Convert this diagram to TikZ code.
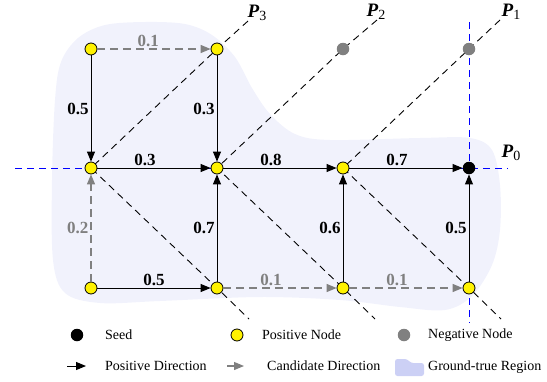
\documentclass[tikz,border=0pt]{standalone}
\usepackage{fontspec}
\setmainfont{Liberation Serif}
\usetikzlibrary{arrows.meta,backgrounds}
\definecolor{negGray}{RGB}{128,128,128}
\definecolor{regionBlue}{RGB}{204,208,245}

\begin{document}
\begin{tikzpicture}[
			x=1pt, y=-1pt,
			posnode/.style={circle, draw, fill=yellow, line width=0.8pt, minimum size=12pt, inner sep=0pt},
			negnode/.style={circle, fill=negGray, minimum size=12.5pt, inner sep=0pt},
			seednode/.style={circle, fill=black, minimum size=12.5pt, inner sep=0pt},
			posdir/.style={-{Triangle[length=10pt, width=8pt]}, line width=1pt},
			canddir/.style={-{Triangle[length=10pt, width=8pt]}, line width=1.2pt, draw=negGray, dash pattern=on 8pt off 5pt},
			pline/.style={dash pattern=on 7pt off 5pt, line width=0.9pt},
			weight/.style={font=\fontsize{17}{17}\selectfont\bfseries, inner sep=2pt},
			legtext/.style={anchor=west, inner sep=0pt, font=\fontsize{14}{14}\selectfont}
			]
			\useasboundingbox (0,0) rectangle (547,381);
			
			% grid of nodes
			\node[posnode] (a1) at (91,49) {};
			\node[posnode] (a2) at (217,49) {};
			\node[negnode] (a3) at (343,49) {};
			\node[negnode] (a4) at (469,49) {};
			\node[posnode] (b1) at (91,168) {};
			\node[posnode] (b2) at (217,168) {};
			\node[posnode] (b3) at (343,168) {};
			\node[seednode] (b4) at (469,168) {};
			\node[posnode] (c1) at (91,288) {};
			\node[posnode] (c2) at (217,288) {};
			\node[posnode] (c3) at (343,288) {};
			\node[posnode] (c4) at (469,288) {};
			
			% ends of the paths
			\coordinate (t3) at (248,21);
			\coordinate (t2) at (377,20);
			\coordinate (t1) at (500,20);
			\coordinate (e3) at (249,319);
			\coordinate (e2) at (375,319);
			\coordinate (e1) at (501,319);
			\coordinate (h0) at (15,168);
			\coordinate (h1) at (508,168);
			\coordinate (v0) at (469,22);
			\coordinate (v1) at (469,323);
			
			\begin{scope}[on background layer]
				\fill[fill=regionBlue!28] plot[smooth cycle, tension=0.55] coordinates {
					(52,180) (55,100) (61,62) (78,38) (105,25) (145,22) (185,24) (212,35)
					(235,57) (252,88) (270,114) (295,134) (330,140) (420,138) (470,138)
					(492,150) (500,185) (500,230) (492,265) (472,296) (445,310) (400,307)
					(340,300) (260,297) (160,301) (100,303) (65,293) (53,260)};
				\draw[pline, color=blue] (h0) -- (h1);
				\draw[pline, color=blue] (v0) -- (v1);
				\draw[pline] (t3) -- (a2.center) -- (b1.center) -- (c2.center) -- (e3);
				\draw[pline] (t2) -- (a3.center) -- (b2.center) -- (c3.center) -- (e2);
				\draw[pline] (t1) -- (a4.center) -- (b3.center) -- (c4.center) -- (e1);
			\end{scope}
			
			% directions
			\draw[canddir] (a1) -- node[weight, above, text=negGray, pos=0.45] {0.1} (a2);
			\draw[posdir] (a1) -- node[weight, left] {0.5} (b1);
			\draw[posdir] (a2) -- node[weight, left] {0.3} (b2);
			\draw[posdir] (b1) -- node[weight, above, pos=0.42] {0.3} (b2);
			\draw[posdir] (b2) -- node[weight, above, pos=0.42] {0.8} (b3);
			\draw[posdir] (b3) -- node[weight, above, pos=0.42] {0.7} (b4);
			\draw[canddir] (c1) -- node[weight, left, text=negGray] {0.2} (b1);
			\draw[posdir] (c1) -- node[weight, above] {0.5} (c2);
			\draw[posdir] (c2) -- node[weight, left] {0.7} (b2);
			\draw[canddir] (c2) -- node[weight, above, text=negGray, pos=0.42] {0.1} (c3);
			\draw[posdir] (c3) -- node[weight, left] {0.6} (b3);
			\draw[canddir] (c3) -- node[weight, above, text=negGray, pos=0.42] {0.1} (c4);
			\draw[posdir] (c4) -- node[weight, left] {0.5} (b4);
			
			% path labels
			\node (lp3) at (257,13) {\fontsize{19}{19}\selectfont\textbf{\textit{P}}\raisebox{-3pt}{\fontsize{14}{14}\selectfont 3}};
			\node (lp2) at (376,12) {\fontsize{19}{19}\selectfont\textbf{\textit{P}}\raisebox{-3pt}{\fontsize{14}{14}\selectfont 2}};
			\node (lp1) at (511,12) {\fontsize{19}{19}\selectfont\textbf{\textit{P}}\raisebox{-3pt}{\fontsize{14}{14}\selectfont 1}};
			\node (lp0) at (511,153) {\fontsize{19}{19}\selectfont\textbf{\textit{P}}\raisebox{-3pt}{\fontsize{14}{14}\selectfont 0}};
			
			% legend
			\node[seednode] (kseed) at (77,335) {};
			\node[legtext] (tseed) at (105,335) {Seed};
			\node[posnode] (kpos) at (237,335) {};
			\node[legtext] (tpos) at (262,335) {Positive Node};
			\node[negnode] (kneg) at (404,335) {};
			\node[legtext] (tneg) at (428,335) {Negative Node};
			\coordinate (kd0) at (67,366);
			\coordinate (kd1) at (86,366);
			\draw[posdir] (kd0) -- (kd1);
			\node[legtext] (tdir) at (105,366) {Positive Direction};
			\coordinate (kc0) at (227,366);
			\coordinate (kc1) at (244,366);
			\draw[canddir, dash pattern=on 8pt off 3pt] (kc0) -- (kc1);
			\node[legtext] (tcand) at (267,366) {Candidate Direction};
			\fill[regionBlue, rounded corners=2.5pt] (395,376) -- (395,359) -- (407,359) -- (411,363) -- (424,363) -- (424,376) -- cycle;
			\node[legtext] (treg) at (428,367) {Ground-true Region};
		\end{tikzpicture}
\end{document}
